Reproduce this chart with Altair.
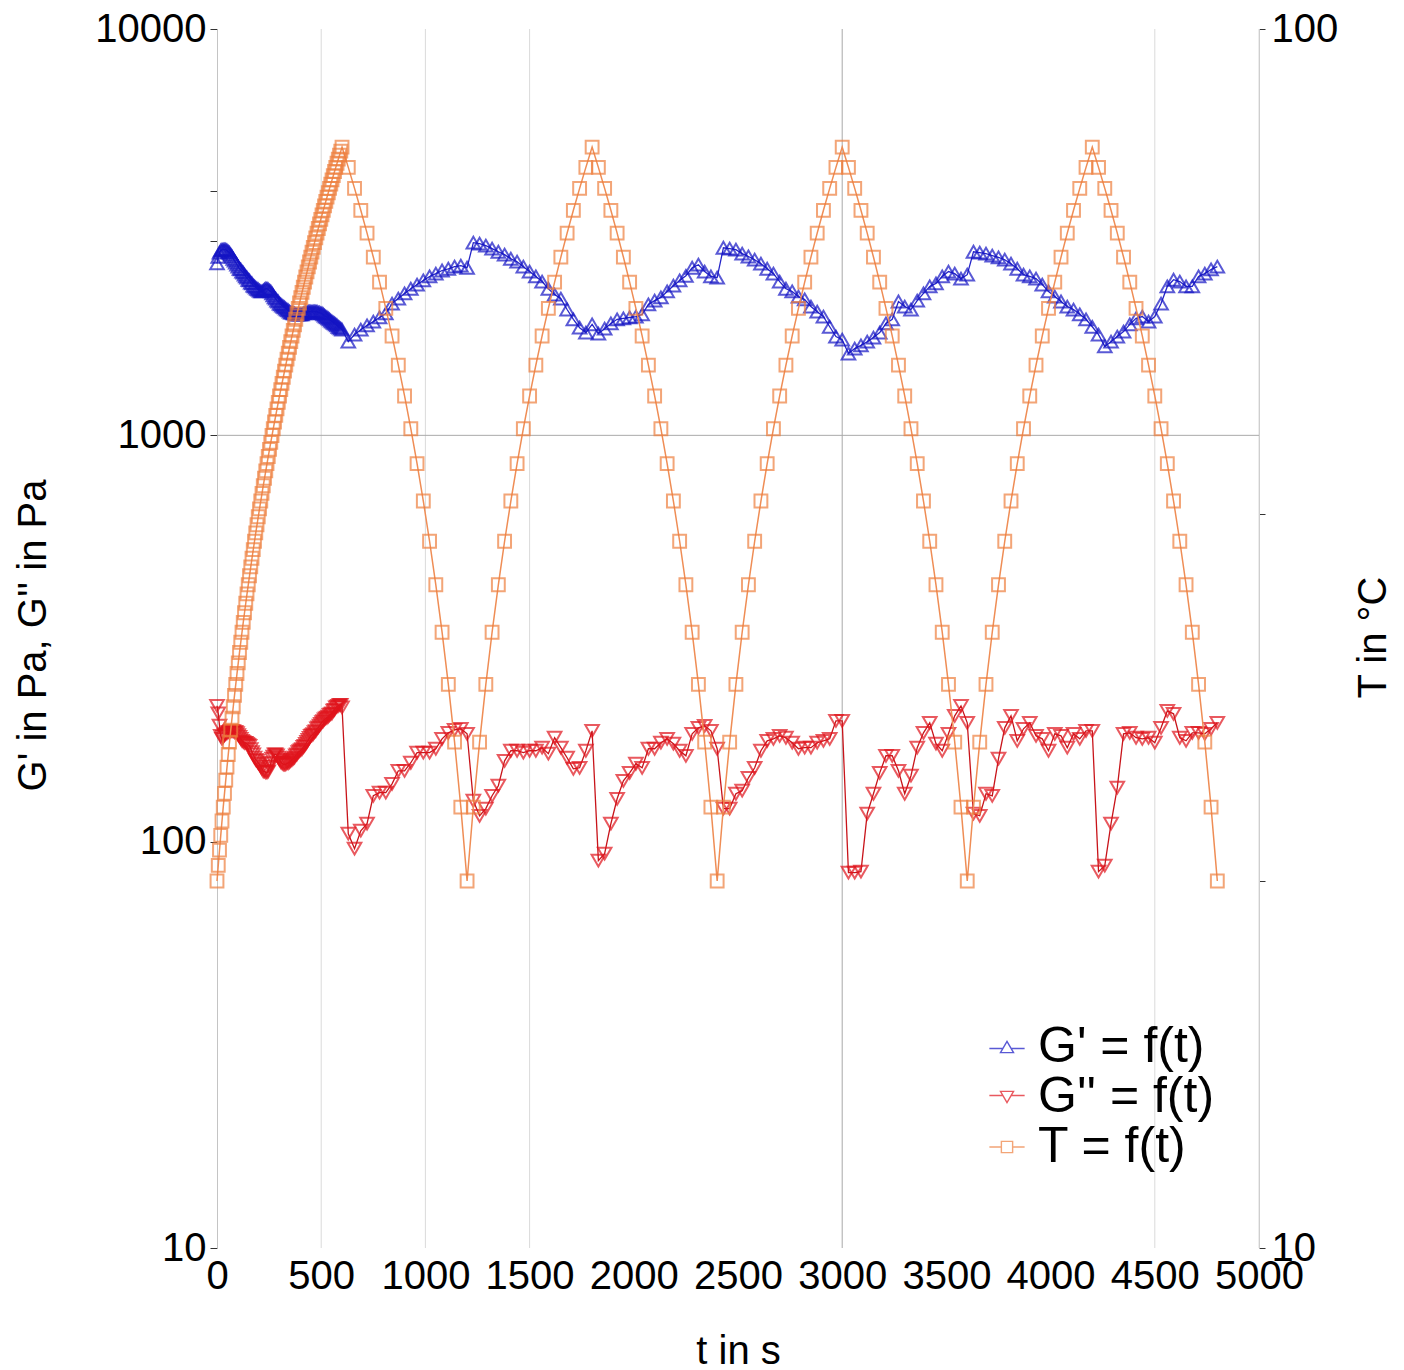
import altair as alt
import pandas as pd

# ---------------- data ----------------
t_ramp = [0, 6, 12, 18, 24, 30, 36, 42, 48, 54,
          60, 66, 72, 78, 84, 90, 96, 102, 108, 114,
          120, 126, 132, 138, 144, 150, 156, 162, 168, 174,
          180, 186, 192, 198, 204, 210, 216, 222, 228, 234,
          240, 246, 252, 258, 264, 270, 276, 282, 288, 294,
          300, 306, 312, 318, 324, 330, 336, 342, 348, 354,
          360, 366, 372, 378, 384, 390, 396, 402, 408, 414,
          420, 426, 432, 438, 444, 450, 456, 462, 468, 474,
          480, 486, 492, 498, 504, 510, 516, 522, 528, 534,
          540, 546, 552, 558, 564, 570, 576, 582, 588, 594,
          600]

t_cycle = [630, 660, 690, 720, 750, 780, 810, 840, 870, 900,
           930, 960, 990, 1020, 1050, 1080, 1110, 1140, 1170, 1200,
           1230, 1260, 1290, 1320, 1350, 1380, 1410, 1440, 1470, 1500,
           1530, 1560, 1590, 1620, 1650, 1680, 1710, 1740, 1770, 1800,
           1830, 1860, 1890, 1920, 1950, 1980, 2010, 2040, 2070, 2100,
           2130, 2160, 2190, 2220, 2250, 2280, 2310, 2340, 2370, 2400,
           2430, 2460, 2490, 2520, 2550, 2580, 2610, 2640, 2670, 2700,
           2730, 2760, 2790, 2820, 2850, 2880, 2910, 2940, 2970, 3000,
           3030, 3060, 3090, 3120, 3150, 3180, 3210, 3240, 3270, 3300,
           3330, 3360, 3390, 3420, 3450, 3480, 3510, 3540, 3570, 3600,
           3630, 3660, 3690, 3720, 3750, 3780, 3810, 3840, 3870, 3900,
           3930, 3960, 3990, 4020, 4050, 4080, 4110, 4140, 4170, 4200,
           4230, 4260, 4290, 4320, 4350, 4380, 4410, 4440, 4470, 4500,
           4530, 4560, 4590, 4620, 4650, 4680, 4710, 4740, 4770, 4800]

# storage modulus G' (Pa)
gp_ramp = [2650, 2750, 2815, 2850, 2865, 2865, 2865, 2865, 2850, 2830,
           2815, 2785, 2755, 2720, 2690, 2660, 2630, 2600, 2570, 2560,
           2530, 2515, 2485, 2460, 2445, 2415, 2405, 2375, 2365, 2335,
           2325, 2310, 2295, 2285, 2270, 2260, 2260, 2270, 2285, 2295,
           2295, 2285, 2270, 2260, 2235, 2210, 2185, 2170, 2145, 2135,
           2110, 2100, 2085, 2075, 2065, 2050, 2040, 2030, 2015, 2005,
           2005, 1995, 1995, 1985, 1985, 1985, 1985, 1985, 1985, 1995,
           1995, 2005, 2005, 2015, 2015, 2015, 2015, 2015, 2015, 2015,
           2015, 2005, 2005, 1995, 1995, 1985, 1970, 1960, 1950, 1940,
           1930, 1915, 1905, 1895, 1885, 1875, 1865, 1850, 1840, 1830,
           1820]
gp_cycle = [1700, 1770, 1820, 1865, 1905, 1950, 1995, 2110, 2170, 2235,
            2295, 2350, 2405, 2460, 2500, 2545, 2570, 2600, 2615, 2585,
            2980, 2965, 2930, 2880, 2830, 2785, 2720, 2675, 2600, 2530,
            2460, 2390, 2295, 2220, 2170, 2040, 1930, 1840, 1790, 1875,
            1780, 1830, 1885, 1930, 1940, 1950, 1960, 1985, 2100, 2145,
            2185, 2260, 2335, 2405, 2470, 2585, 2630, 2530, 2460, 2445,
            2895, 2880, 2865, 2800, 2755, 2705, 2645, 2570, 2500, 2390,
            2295, 2260, 2195, 2160, 2075, 2015, 1960, 1850, 1750, 1720,
            1590, 1635, 1665, 1700, 1740, 1790, 1885, 1930, 2135, 2075,
            2040, 2145, 2235, 2325, 2365, 2460, 2530, 2500, 2430, 2485,
            2830, 2815, 2800, 2770, 2740, 2705, 2645, 2570, 2485, 2460,
            2430, 2350, 2260, 2195, 2135, 2075, 2040, 1985, 1930, 1850,
            1770, 1655, 1700, 1750, 1800, 1875, 1940, 1960, 1905, 1960,
            2110, 2325, 2415, 2390, 2325, 2325, 2460, 2500, 2560, 2600]

# loss modulus G'' (Pa)
gpp_ramp = [216, 207, 193, 182, 179, 181, 183, 184, 185, 186,
            186, 187, 187, 187, 186, 186, 185, 183, 181, 179,
            177, 176, 175, 175, 174, 173, 172, 169, 166, 164,
            161, 159, 158, 156, 155, 153, 151, 149, 149, 148,
            148, 149, 153, 156, 160, 162, 164, 164, 163, 161,
            159, 157, 156, 155, 155, 155, 156, 156, 157, 158,
            159, 160, 161, 163, 164, 166, 167, 168, 169, 171,
            172, 174, 176, 178, 180, 182, 183, 184, 186, 187,
            190, 191, 193, 195, 197, 198, 200, 201, 202, 203,
            205, 206, 207, 210, 211, 214, 215, 216, 217, 217,
            214]
gpp_cycle = [104.6, 96.1, 106.4, 110.7, 129.7, 132.0, 132.0, 138.8, 149.4, 149.4,
             156.4, 165.6, 165.6, 165.6, 169.3, 179.1, 185.3, 188.5, 189.6, 184.3,
             126.1, 115.8, 120.6, 129.7, 137.3, 158.1, 167.4, 167.4, 165.6, 167.4,
             167.4, 170.3, 164.6, 180.2, 170.3, 160.9, 151.1, 152.0, 167.4, 187.4,
             89.8, 93.4, 110.7, 127.5, 141.2, 147.7, 155.5, 152.0, 169.3, 169.3,
             175.2, 179.1, 174.2, 167.4, 162.7, 184.3, 190.6, 192.8, 187.4, 169.3,
             120.6, 120.6, 131.2, 133.5, 143.6, 152.0, 167.4, 177.1, 179.1, 182.2,
             180.2, 175.2, 169.3, 170.3, 170.3, 175.2, 177.1, 179.1, 198.3, 198.3,
             83.9, 83.9, 84.4, 117.2, 131.2, 147.7, 162.7, 162.7, 149.4, 131.2,
             145.3, 170.3, 185.3, 196.1, 174.2, 167.4, 184.3, 204.0, 215.9, 196.1,
             117.2, 115.8, 131.2, 129.7, 160.0, 190.6, 204.0, 177.1, 189.6, 196.1,
             182.2, 179.1, 167.4, 184.3, 182.2, 170.3, 184.3, 179.1, 187.4, 187.4,
             84.4, 87.3, 110.7, 135.8, 184.3, 185.3, 180.2, 179.1, 180.2, 175.2,
             190.6, 209.8, 206.4, 180.2, 177.1, 185.3, 185.3, 184.3, 189.6, 196.1]

# temperature T (°C)
T_ramp = [20.0, 20.6, 21.2, 21.8, 22.4, 23.0, 23.6, 24.2, 24.8, 25.4,
          26.0, 26.6, 27.2, 27.8, 28.4, 29.0, 29.6, 30.2, 30.8, 31.4,
          32.0, 32.6, 33.2, 33.8, 34.4, 35.0, 35.6, 36.2, 36.8, 37.4,
          38.0, 38.6, 39.2, 39.8, 40.4, 41.0, 41.6, 42.2, 42.8, 43.4,
          44.0, 44.6, 45.2, 45.8, 46.4, 47.0, 47.6, 48.2, 48.8, 49.4,
          50.0, 50.6, 51.2, 51.8, 52.4, 53.0, 53.6, 54.2, 54.8, 55.4,
          56.0, 56.6, 57.2, 57.8, 58.4, 59.0, 59.6, 60.2, 60.8, 61.4,
          62.0, 62.6, 63.2, 63.8, 64.4, 65.0, 65.6, 66.2, 66.8, 67.4,
          68.0, 68.6, 69.2, 69.8, 70.4, 71.0, 71.6, 72.2, 72.8, 73.4,
          74.0, 74.6, 75.2, 75.8, 76.4, 77.0, 77.6, 78.2, 78.8, 79.4,
          80.0]
T_cycle = [77, 74, 71, 68, 65, 62, 59, 56, 53, 50,
           47, 44, 41, 38, 35, 32, 29, 26, 23, 20,
           23, 26, 29, 32, 35, 38, 41, 44, 47, 50,
           53, 56, 59, 62, 65, 68, 71, 74, 77, 80,
           77, 74, 71, 68, 65, 62, 59, 56, 53, 50,
           47, 44, 41, 38, 35, 32, 29, 26, 23, 20,
           23, 26, 29, 32, 35, 38, 41, 44, 47, 50,
           53, 56, 59, 62, 65, 68, 71, 74, 77, 80,
           77, 74, 71, 68, 65, 62, 59, 56, 53, 50,
           47, 44, 41, 38, 35, 32, 29, 26, 23, 20,
           23, 26, 29, 32, 35, 38, 41, 44, 47, 50,
           53, 56, 59, 62, 65, 68, 71, 74, 77, 80,
           77, 74, 71, 68, 65, 62, 59, 56, 53, 50,
           47, 44, 41, 38, 35, 32, 29, 26, 23, 20]

series_labels = ["G' = f(t)", "G'' = f(t)", "T = f(t)"]
series_colors = ["#1414c4", "#e0141c", "#ee7f3e"]
line_colors = ["#2424c8", "#c8141a", "#ef8d55"]

x_ticks = [0, 500, 1000, 1500, 2000, 2500, 3000, 3500, 4000, 4500, 5000]
left_ticks = [10, 100, 1000, 3000, 4000, 10000]
right_ticks = [10, 20, 40, 100]
grid_x_light = [500, 1000, 1500, 4500, 5000]
grid_x_dark = [3000]
grid_y_dark = [1000]

# ---------------- tables ----------------
t_all = t_ramp + t_cycle
df_gp = pd.DataFrame({"t": t_all, "value": gp_ramp + gp_cycle, "series": series_labels[0]})
df_gpp = pd.DataFrame({"t": t_all, "value": gpp_ramp + gpp_cycle, "series": series_labels[1]})
df_T = pd.DataFrame({"t": t_all, "value": T_ramp + T_cycle, "series": series_labels[2]})

FONT = "Liberation Sans, Arial, sans-serif"
LFS = 40   # tick label size
TFS = 40   # axis title size

x_scale = alt.Scale(domain=[0, 5000], nice=False, zero=False)
yl_scale = alt.Scale(type="log", domain=[10, 10000], nice=False)
yr_scale = alt.Scale(type="log", domain=[10, 100], nice=False)

x_axis = alt.Axis(values=x_ticks, format="d", title="t in s", grid=False, domain=False,
                  ticks=False, labelFont=FONT, labelFontSize=LFS, labelColor="#000",
                  labelPadding=8, labelFlush=False, labelOverlap=False,
                  titleFont=FONT, titleFontSize=TFS, titleFontWeight="normal",
                  titleColor="#000", titleX=521, titleY=103, titleAlign="center",
                  titleBaseline="middle")

left_expr = "indexof([10,100,1000,10000], datum.value) >= 0 ? datum.label : ''"
left_axis = alt.Axis(values=left_ticks, format="d", labelExpr=left_expr,
                     title="G' in Pa, G'' in Pa", grid=False, domain=True,
                     domainColor="#c4c4c4", domainWidth=1, ticks=True, tickColor="#333",
                     tickSize=7, labelFont=FONT, labelFontSize=LFS, labelColor="#000",
                     labelPadding=4, labelFlush=False, labelOverlap=False,
                     titleFont=FONT, titleFontSize=TFS, titleFontWeight="normal",
                     titleColor="#000", titleX=-184, titleY=606, titleAngle=270,
                     titleAlign="center", titleBaseline="middle", orient="left")

right_expr = "indexof([10,100], datum.value) >= 0 ? datum.label : ''"
right_axis = alt.Axis(values=right_ticks, format="d", labelExpr=right_expr,
                      title="T in °C", grid=False, domain=True, domainColor="#c4c4c4",
                      domainWidth=1, ticks=True, tickColor="#333", tickSize=6,
                      labelFont=FONT, labelFontSize=LFS, labelColor="#000",
                      labelPadding=6, labelFlush=False, labelOverlap=False,
                      titleFont=FONT, titleFontSize=TFS, titleFontWeight="normal",
                      titleColor="#000", titleX=114, titleY=608, titleAngle=270,
                      titleAlign="center", titleBaseline="middle", orient="right")

X = alt.X("t:Q", scale=x_scale, axis=x_axis)
YL = alt.Y("value:Q", scale=yl_scale, axis=left_axis)
YR = alt.Y("value:Q", scale=yr_scale, axis=right_axis)

# gridlines (data-driven rules)
grid_light = alt.Chart(pd.DataFrame({"t": grid_x_light})).mark_rule(
    color="#dadada", strokeWidth=1).encode(x=X)
grid_dark = alt.Chart(pd.DataFrame({"t": grid_x_dark})).mark_rule(
    color="#a9a9a9", strokeWidth=1).encode(x=X)
grid_h = alt.Chart(pd.DataFrame({"value": grid_y_dark})).mark_rule(
    color="#a9a9a9", strokeWidth=1).encode(y=YL)

PT = 2.0
gp_line = alt.Chart(df_gp).mark_line(color=line_colors[0], strokeWidth=1.3).encode(x=X, y=YL)
gp_pts = alt.Chart(df_gp).mark_point(shape="triangle-up", filled=False, size=185,
                                     strokeWidth=PT, color=series_colors[0]).encode(x=X, y=YL)
gpp_line = alt.Chart(df_gpp).mark_line(color=line_colors[1], strokeWidth=1.3).encode(x=X, y=YL)
gpp_pts = alt.Chart(df_gpp).mark_point(shape="triangle-down", filled=False, size=185,
                                       strokeWidth=PT, color=series_colors[1]).encode(x=X, y=YL)
T_line = alt.Chart(df_T).mark_line(color=line_colors[2], strokeWidth=1.5).encode(x=X, y=YR)
T_pts = alt.Chart(df_T).mark_point(shape="square", filled=False, size=165,
                                   strokeWidth=PT, color=series_colors[2]).encode(x=X, y=YR)

# legend: line stub + marker symbols
legend_paths = [
    "M-2.35,0.2L-0.55,0.2M0.55,0.2L2.35,0.2M-0.87,0.75L0,-0.75L0.87,0.75Z",
    "M-2.35,-0.2L-0.55,-0.2M0.55,-0.2L2.35,-0.2M-0.87,-0.75L0,0.75L0.87,-0.75Z",
    "M-2.35,0L-0.75,0M0.75,0L2.35,0M-0.75,-0.75L0.75,-0.75L0.75,0.75L-0.75,0.75Z",
]
leg = alt.Legend(title=None, orient="none", legendX=765, legendY=993, padding=0,
                 labelFont=FONT, labelFontSize=50, labelColor="#000", labelOffset=6,
                 symbolSize=225, symbolStrokeWidth=1.4, rowPadding=-1, labelLimit=400)
all_df = pd.concat([df_gp, df_gpp, df_T])
legend_layer = alt.Chart(all_df).mark_point(filled=False, size=225).encode(
    x=X, y=YL,
    color=alt.Color("series:N", scale=alt.Scale(domain=series_labels, range=series_colors), legend=leg),
    shape=alt.Shape("series:N", scale=alt.Scale(domain=series_labels, range=legend_paths), legend=leg),
).transform_filter("datum.t < 0")

left = alt.layer(grid_light, grid_dark, grid_h, gp_line, gp_pts, gpp_line, gpp_pts, legend_layer)
right = alt.layer(T_line, T_pts)

chart = alt.layer(left, right).resolve_scale(y="independent").properties(
    width=1042, height=1219,
    autosize=alt.AutoSizeParams(type="none"),
    padding={"left": 209, "top": 21, "right": 137, "bottom": 122},
    background="white",
).configure_view(strokeWidth=0)

chart.save("out.html", embed_options={"renderer": "svg", "actions": False})
